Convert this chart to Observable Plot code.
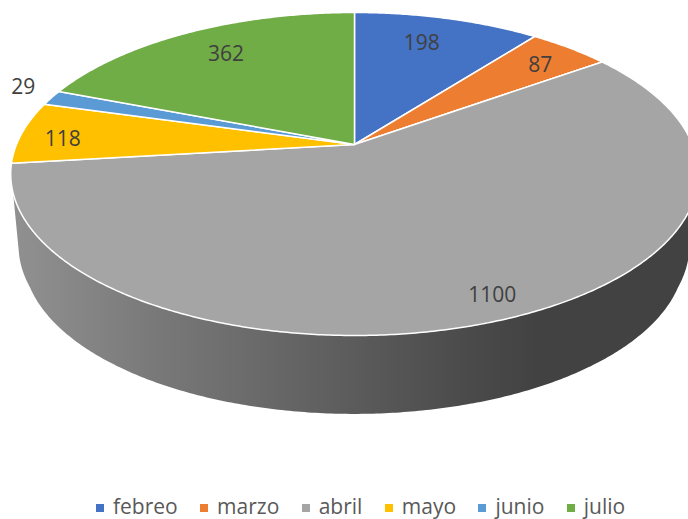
<!DOCTYPE html>
<html><head><meta charset="utf-8">
<script src="https://cdn.jsdelivr.net/npm/d3@7"></script>
<script src="https://cdn.jsdelivr.net/npm/@observablehq/plot@0.6"></script>
<style>
html,body{margin:0;padding:0;background:#fff;overflow:hidden}
#chart svg{display:block}
#legend{height:29px;display:flex;align-items:center;padding-left:96px;font:21px "Open Sans",sans-serif;color:#595959;box-sizing:border-box}
#legend span.k{width:8px;height:8px;margin-right:9px;flex:none;position:relative;top:3px}
#legend span.t{margin-right:22.4px;line-height:1;position:relative;top:2px}
</style></head><body>
<div id="chart"></div><div id="legend"></div>
<script>
const months = ["febreo","marzo","abril","mayo","junio","julio"];
const counts = [198,87,1100,118,29,362];
const colors = ["#4472c4","#ed7d31","#a5a5a5","#ffc000","#5b9bd5","#70ad47"];
// label layout: fraction of the radius and angular nudge (degrees) from each slice's middle
const labelRadius = [0.776,0.829,0.888,0.870,1.124,0.779];
const labelNudge  = [-1.9,1.1,-1.7,-1.9,2.3,1.3];

const persp = 0.1827;            // perspective strength of the tilted disc
const shrinkY = 0.98, drop = 0.53; // lower rim of the wall, in y-domain units
const wallStart = 108;           // where the wall leaves the top rim (degrees)
const rad = d => d * Math.PI / 180;
const top3 = (deg, r = 1) => {
  const X = r * Math.sin(rad(deg)), Y = r * Math.cos(rad(deg)), w = 1 + persp * Y;
  return {x: X / w, y: Y / w};
};
const tangent = Math.acos(-persp) * 180 / Math.PI;
const bottom3 = deg => {
  const a = 180 + (deg - 180) * (180 - tangent) / (180 - wallStart);
  const p = top3(a), Y = Math.cos(rad(a));
  const sx = 0.962 + 0.012 * Math.max(0, Math.min(1, (Y + 0.37) / 0.19));
  return {x: p.x * sx, y: p.y * shrinkY - drop};
};

const total = d3.sum(counts);
let acc = 0;
const slices = months.map((name, i) => {
  const a0 = acc / total * 360; acc += counts[i];
  return {name, value: counts[i], a0, a1: acc / total * 360, i};
});
const slicePts = slices.flatMap(s => {
  const n = Math.max(8, Math.ceil((s.a1 - s.a0) * 2));
  const arc = d3.range(n + 1).map(j => top3(s.a0 + (s.a1 - s.a0) * j / n));
  return [{x: 0, y: 0}, ...arc, {x: 0, y: 0}].map(p => ({...p, name: s.name}));
});
const labels = slices.map(s => ({
  ...top3((s.a0 + s.a1) / 2 + labelNudge[s.i], labelRadius[s.i]),
  text: String(s.value)
}));
const wall = d3.range(wallStart, 360 - wallStart + 0.25, 0.5).map(a => {
  const t = top3(a), b = bottom3(a);
  return {x1: t.x, y1: t.y, x2: b.x, y2: b.y};
});

const defs = () => {
  const d = d3.create("svg:defs");
  const g = d.append("linearGradient").attr("id", "wallShade")
    .attr("gradientUnits", "userSpaceOnUse")
    .attr("x1", 11).attr("x2", 688).attr("y1", 0).attr("y2", 0);
  [[0,"#909090"],[0.03,"#8e8e8e"],[0.22,"#787878"],[0.353,"#6b6b6b"],[0.5,"#5c5c5c"],[0.68,"#4a4a4a"],[0.78,"#424242"],[1,"#424242"]]
    .forEach(([o,c]) => g.append("stop").attr("offset", o).attr("stop-color", c));
  return d.node();
};

const fig = Plot.plot({
  width: 688, height: 490,
  margin: 0,
  style: {background: "#fff", fontFamily: "'Open Sans',sans-serif"},
  x: {domain: [-1, 1], range: [16, 692], axis: null},
  y: {domain: [-1, 1], range: [300.1, -12.1], axis: null},
  color: {domain: months, range: colors},
  marks: [
    defs,
    Plot.area(wall, {x1: "x1", y1: "y1", x2: "x2", y2: "y2", fill: "url(#wallShade)", clip: "frame"}),
    Plot.line(slicePts, {x: "x", y: "y", z: "name", fill: "name", stroke: "#fff", strokeWidth: 1.5, strokeLinejoin: "round", clip: "frame"}),
    Plot.text(labels, {x: "x", y: "y", dy: 1, text: "text", fill: "#404040", fontSize: 21})
  ]
});
document.getElementById("chart").append(fig);
const lg = document.getElementById("legend");
months.forEach((m, i) => {
  const k = document.createElement("span"); k.className = "k"; k.style.background = colors[i];
  const t = document.createElement("span"); t.className = "t"; t.textContent = m;
  lg.append(k, t);
});
</script>
</body></html>
